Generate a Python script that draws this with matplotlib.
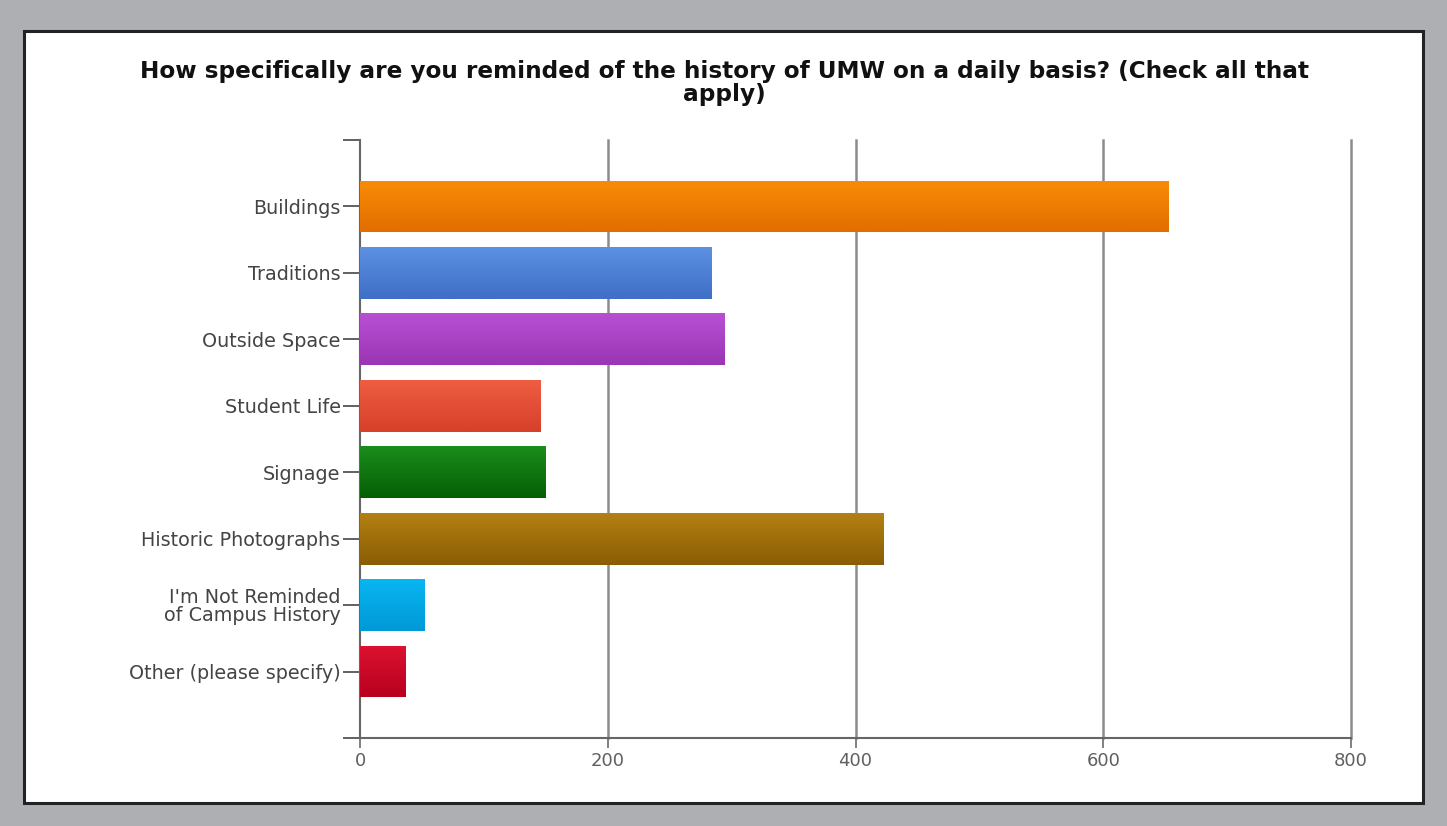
import numpy as np
import matplotlib
matplotlib.use("Agg")
import matplotlib.pyplot as plt
from matplotlib.patches import Rectangle
from matplotlib.colors import LinearSegmentedColormap

categories = ["Buildings", "Traditions", "Outside Space", "Student Life", "Signage",
              "Historic Photographs", "I'm Not Reminded\nof Campus History", "Other (please specify)"]
counts = [653, 284, 294, 146, 150, 423, 52, 37]
top_colors = ["#f88c06", "#5b90e2", "#b950d4", "#ee5d42", "#1b8c1b", "#b38012", "#08b6f2", "#dc1230"]
bot_colors = ["#e26e00", "#3f6fc6", "#9a35b4", "#d6402a", "#056005", "#8a5d05", "#0098d6", "#b8001f"]
xticks = [0, 200, 400, 600, 800]
title = "How specifically are you reminded of the history of UMW on a daily basis? (Check all that\napply)"

plt.rcParams['font.family'] = ['DejaVu Sans']
W, H = 1447, 826
fig = plt.figure(figsize=(W / 100, H / 100), dpi=100, facecolor="#aeafb3")

# white panel with dark frame
fig.patches.append(Rectangle((24 / W, 1 - 803 / H), (1423 - 24) / W, (803 - 31) / H,
                             transform=fig.transFigure, facecolor="white",
                             edgecolor="#222222", linewidth=2.2, zorder=-5))

fig.text(724 / W, 1 - 83 / H, title, ha="center", va="center", fontsize=16.7,
         fontweight="bold", color="#111111", linespacing=1.05)

ax = fig.add_axes([360 / W, 1 - 738 / H, (1351 - 360) / W, (738 - 140) / H])
ax.set_facecolor("none")
ypos = np.arange(len(categories))
bars = ax.barh(ypos, counts, height=0.78, color=top_colors, zorder=3, linewidth=0)
for b, c1, c2 in zip(bars, top_colors, bot_colors):
    cmap = LinearSegmentedColormap.from_list("g", [c1, c2])
    x0, y0 = b.get_x(), b.get_y()
    w, h = b.get_width(), b.get_height()
    im = ax.imshow(np.linspace(0, 1, 50).reshape(-1, 1), cmap=cmap, aspect="auto",
                   extent=[x0, x0 + w, y0 + h, y0], origin="upper", zorder=4)
    im.set_clip_path(b)

ax.set_xlim(0, 800)
ax.set_ylim(8, -1)
ax.set_xticks(xticks)
ax.set_xticklabels([str(t) for t in xticks], fontsize=13, color="#606060")
ax.set_yticks(np.arange(-1, len(categories) + 1))
ax.set_yticklabels([""] + categories + [""], fontsize=13.8, color="#444444",
                   linespacing=0.92)
ax.tick_params(axis="y", length=12, width=1.3, color="#555555", pad=2)
ax.tick_params(axis="x", length=7, width=1.3, color="#777777", pad=3)
ax.xaxis.grid(True, color="#8c8c8c", linewidth=1.8, zorder=1)
for g in ax.get_xgridlines():
    g.set_clip_on(False)
for s in ["top", "right"]:
    ax.spines[s].set_visible(False)
ax.spines["left"].set_color("#666666")
ax.spines["left"].set_linewidth(1.5)
ax.spines["bottom"].set_color("#666666")
ax.spines["bottom"].set_linewidth(1.5)
# hide the grid line sitting on the left spine
ax.get_xgridlines()[0].set_visible(False)

fig.savefig("out.png", dpi=100, facecolor=fig.get_facecolor())
